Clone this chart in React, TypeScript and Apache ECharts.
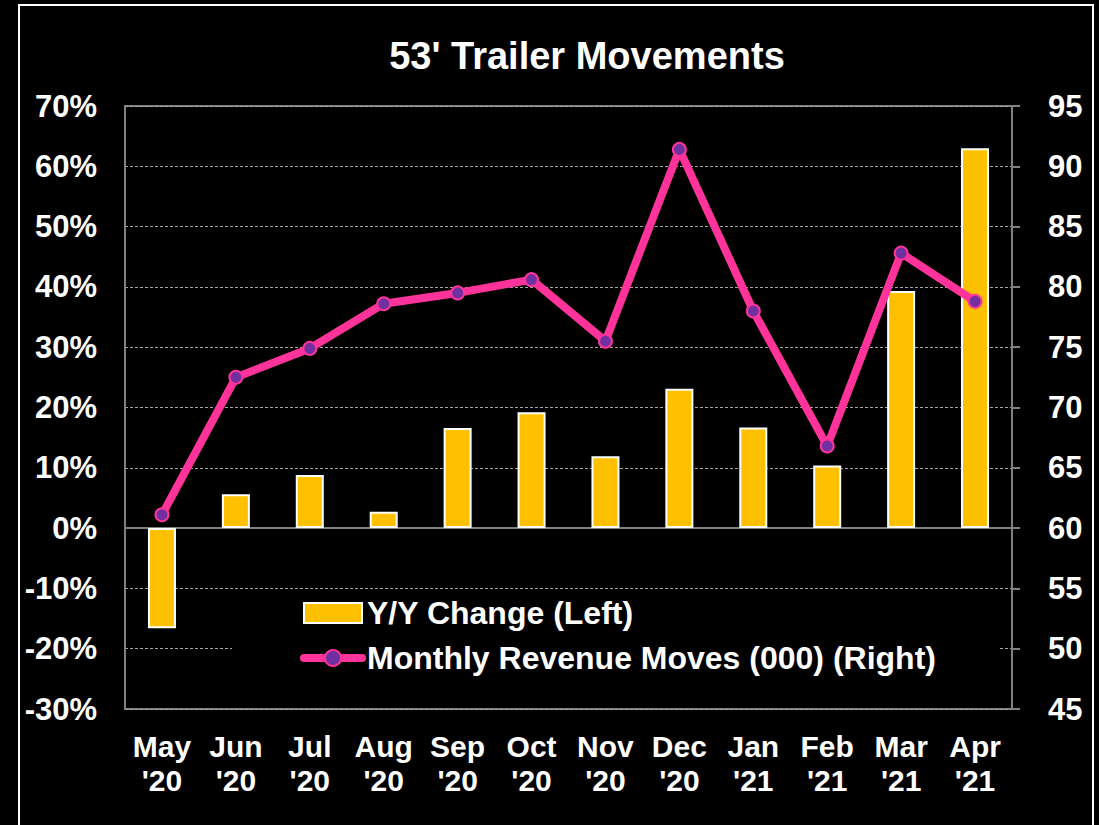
import React, { useEffect, useRef } from "react";
import * as echarts from "echarts";

const categories = ["May\n'20", "Jun\n'20", "Jul\n'20", "Aug\n'20", "Sep\n'20", "Oct\n'20", "Nov\n'20", "Dec\n'20", "Jan\n'21", "Feb\n'21", "Mar\n'21", "Apr\n'21"];
const yoyChange = [-16.6, 5.6, 8.8, 2.7, 16.6, 19.2, 11.9, 23.1, 16.7, 10.4, 39.3, 63.0];
const monthlyMoves = [61.1, 72.5, 74.9, 78.6, 79.5, 80.6, 75.5, 91.4, 78.0, 66.8, 82.8, 78.8];

const FONT = "'Liberation Sans', Arial, sans-serif";

export default function App() {
  const ref = useRef<HTMLDivElement>(null);
  useEffect(() => {
    if (!ref.current) return;
    const chart = echarts.init(ref.current, null, { renderer: "svg" });
    chart.setOption({
      animation: false,
      backgroundColor: "#000000",
      textStyle: { fontFamily: FONT },
      title: {
        text: "53' Trailer Movements",
        left: 582,
        textAlign: "center",
        top: 32,
        textStyle: { color: "#ffffff", fontSize: 38, fontWeight: "bold", fontFamily: FONT },
      },
      graphic: [
        {
          type: "rect",
          shape: { x: 19, y: 5, width: 1074, height: 840 },
          style: { fill: "none", stroke: "#ffffff", lineWidth: 2 },
          silent: true,
          z: 100,
        },
      ],
      grid: {
        left: 125,
        top: 106,
        right: 87,
        bottom: 116,
        show: true,
        borderColor: "#808080",
        borderWidth: 2,
        backgroundColor: "transparent",
      },
      legend: {
        orient: "vertical",
        left: 232,
        top: 592,
        padding: [4, 63, 15, 68],
        backgroundColor: "#000000",
        itemWidth: 58,
        itemHeight: 20,
        itemGap: 11,
        z: 5,
        textStyle: { color: "#ffffff", fontSize: 32, fontWeight: "bold", fontFamily: FONT, lineHeight: 34 },
        data: [
          { name: "Y/Y Change (Left)", icon: "rect" },
          {
            name: "Monthly Revenue Moves (000) (Right)",
            lineStyle: { width: 8, cap: "round", color: "#FF3399" },
          },
        ],
      },
      xAxis: {
        type: "category",
        data: categories,
        axisLine: { show: true, lineStyle: { color: "#808080", width: 2 } },
        axisTick: { show: false },
        axisLabel: {
          color: "#ffffff",
          fontSize: 30,
          fontWeight: "bold",
          fontFamily: FONT,
          lineHeight: 34,
          margin: 20,
          interval: 0,
        },
      },
      yAxis: [
        {
          type: "value",
          min: -30,
          max: 70,
          interval: 10,
          position: "left",
          axisLine: { show: true, lineStyle: { color: "#808080", width: 2 } },
          axisTick: { show: false },
          axisLabel: {
            formatter: "{value}%",
            color: "#ffffff",
            fontSize: 31,
            fontWeight: "bold",
            fontFamily: FONT,
            margin: 28,
          },
          splitLine: { show: true, lineStyle: { color: "#a6a6a6", type: [3, 2], width: 1 } },
        },
        {
          type: "value",
          min: 45,
          max: 95,
          interval: 5,
          position: "right",
          axisLine: { show: true, lineStyle: { color: "#808080", width: 2 } },
          axisTick: { show: true, length: 8, inside: false, lineStyle: { color: "#808080", width: 2 } },
          axisLabel: {
            color: "#ffffff",
            fontSize: 31,
            fontWeight: "bold",
            fontFamily: FONT,
            margin: 36,
          },
          splitLine: { show: false },
        },
      ],
      series: [
        {
          name: "Y/Y Change (Left)",
          type: "bar",
          yAxisIndex: 0,
          data: yoyChange,
          barWidth: 28,
          itemStyle: { color: "#FFC000", borderColor: "#ffffff", borderWidth: 2 },
          z: 2,
        },
        {
          name: "Monthly Revenue Moves (000) (Right)",
          type: "line",
          yAxisIndex: 1,
          data: monthlyMoves,
          lineStyle: { color: "#FF3399", width: 8 },
          itemStyle: { color: "#7030A0", borderColor: "#FF3399", borderWidth: 2 },
          symbol: "circle",
          symbolSize: 13,
          showSymbol: true,
          z: 3,
        },
      ],
    });
    return () => chart.dispose();
  }, []);
  return (
    <div
      ref={ref}
      style={{ position: "absolute", left: 0, top: 0, width: 1099, height: 825, background: "#000" }}
    />
  );
}
